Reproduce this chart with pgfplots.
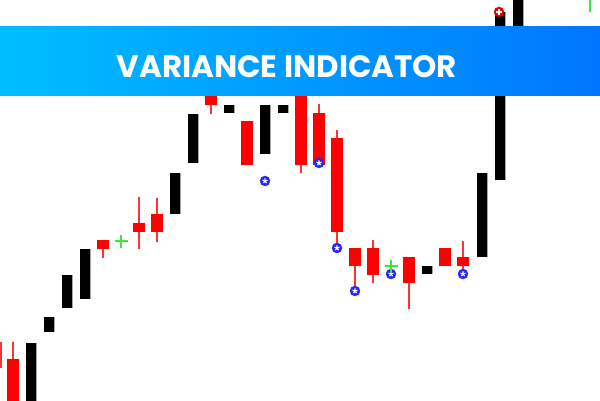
\documentclass[border=0pt]{standalone}
\usepackage{pgfplots}
\pgfplotsset{compat=1.18}
\usepackage{pgfplotstable}
\usepackage{fontspec}
\setmainfont{Poppins}
\definecolor{wick}{RGB}{255,50,50}
\definecolor{bannerL}{RGB}{0,190,255}
\definecolor{bannerR}{RGB}{0,118,255}
\definecolor{crossgreen}{RGB}{60,230,60}
\definecolor{dotblue}{RGB}{40,40,240}

% red candle bodies: x, low, high (chart units)
\pgfplotstableread{
x lo hi
13 -5 41
103 151 160
139 168 177
157 168 186
211 295 312
247 235 279
301 235 310
319 235 287
337 168 262
355 134 152
373 125 152
409 117 143
445 134 152
463 134 143
}\redbodies

% red wicks
\pgfplotstableread{
x lo hi
1 32 58
13 41 58
103 142 151
139 151 203
157 158 202
211 286 295
301 227 235
319 287 296
337 152 270
355 110 134
373 117 160
409 91 117
463 126 159
}\redwicks

% black candle bodies
\pgfplotstableread{
x lo hi
31 -5 57
49 68 83
67 92 125
85 101 151
175 186 227
193 237 286
229 287 295
265 246 295
283 287 295
427 126 134
482 143 227
500 220 388
518 360 405
}\blackbodies

\pgfplotstableread{
x y
265 219
319 237
337 152
355 109
391 126
463 126
}\bluedots

\pgfplotstableread{
x y
121 159
391 134
}\greencross

\pgfplotsset{candle/.style={only marks, mark size=0pt,
  mark options={draw opacity=0, fill opacity=0},
  error bars/.cd, y dir=plus, y explicit, error mark=none}}

\begin{document}
\begin{tikzpicture}
\begin{axis}[
  width=600bp, height=400bp, scale only axis,
  xmin=0, xmax=600, ymin=0, ymax=400,
  hide axis, clip=true,
]
\addplot[candle, error bar style={line width=2bp, color=wick}]
  table[x=x, y=lo, y error expr=\thisrow{hi}-\thisrow{lo}] {\redwicks};
\addplot[candle, error bar style={line width=12bp, color=red}]
  table[x=x, y=lo, y error expr=\thisrow{hi}-\thisrow{lo}] {\redbodies};
\addplot[candle, error bar style={line width=11bp, color=gray!70}]
  table[x=x, y=lo, y error expr=\thisrow{hi}-\thisrow{lo}] {\blackbodies};
\addplot[candle, error bar style={line width=9.6bp, color=black}]
  table[x=x, y=lo, y error expr=\thisrow{hi}-\thisrow{lo}] {\blackbodies};
\addplot[only marks, mark=*, mark size=5bp, mark options={fill=dotblue, draw=dotblue}]
  table[x=x, y=y] {\bluedots};
\addplot[only marks, mark=star, mark size=2.6bp, mark options={draw=white, line width=1.1bp}]
  table[x=x, y=y] {\bluedots};
\addplot[only marks, mark=+, mark size=6.5bp, mark options={draw=crossgreen, line width=1.3bp}]
  table[x=x, y=y] {\greencross};
\addplot[crossgreen, line width=1.5bp] coordinates {(590,388) (590,405)};
\addplot[only marks, mark=*, mark size=5bp, mark options={fill=red!90!black, draw=red!80!black}]
  coordinates {(499,388)};
\addplot[only marks, mark=+, mark size=2.8bp, mark options={draw=white, line width=1.1bp}]
  coordinates {(499,388)};
\fill[left color=bannerL, right color=bannerR] (axis cs:0,305) rectangle (axis cs:600,373);
\node[text=white, font=\fontsize{31}{31}\selectfont\bfseries] at (axis cs:287,333) {VARIANCE INDICATOR};
\end{axis}
\end{tikzpicture}
\end{document}
